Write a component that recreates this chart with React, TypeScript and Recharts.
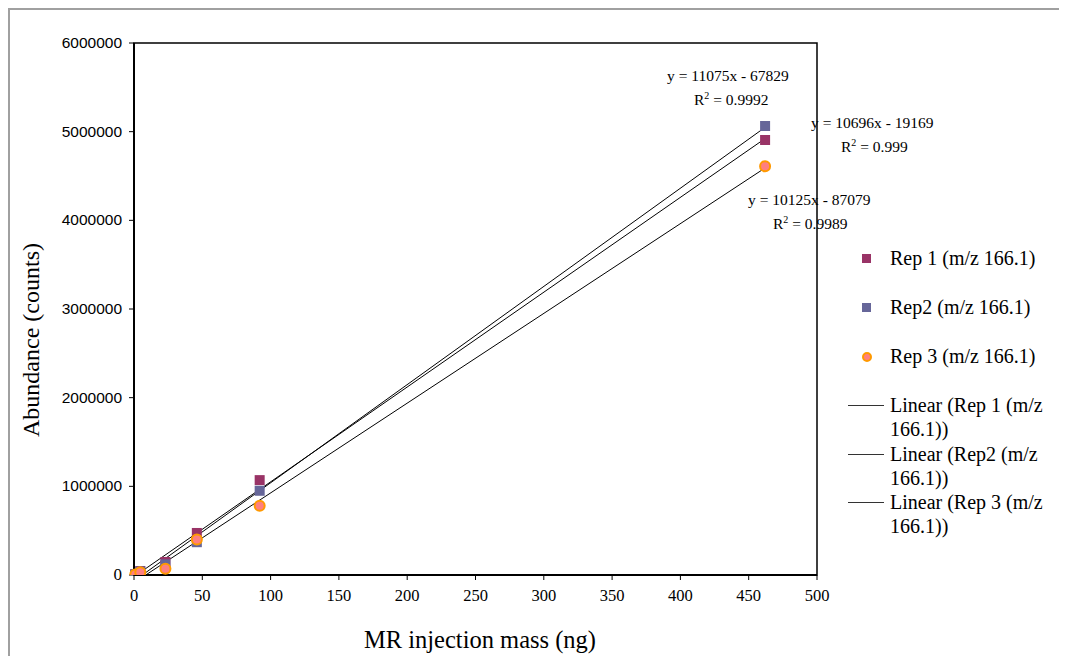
import { ScatterChart, Scatter, XAxis, YAxis, ReferenceArea } from 'recharts'

const massNg = [0.92, 4.6, 23, 46, 92, 462]
const rep1 = [9000, 45000, 147000, 474000, 1070000, 4906000]
const rep2 = [8000, 40000, 120000, 370000, 950000, 5064000]
const rep3 = [7000, 30000, 70000, 400000, 780000, 4610000]

// trendline coefficients as printed on the chart
const slopes = [11075, 10696, 10125]
const intercepts = [-67829, -19169, -87079]
const r2Labels = ['0.9992', '0.999', '0.9989']

const xTicks = [0, 50, 100, 150, 200, 250, 300, 350, 400, 450, 500]
const yTicks = [0, 1000000, 2000000, 3000000, 4000000, 5000000, 6000000]

const serif = '"Liberation Serif", "Times New Roman", serif'
const sans = '"Liberation Sans", Arial, sans-serif'

const toPoints = (ys: number[]) => massNg.map((x, i) => ({ x, y: ys[i] }))
const trend = (k: number) => {
  const lo = Math.min(...massNg)
  const hi = Math.max(...massNg)
  return [
    { x: lo, y: slopes[k] * lo + intercepts[k] },
    { x: hi, y: slopes[k] * hi + intercepts[k] },
  ]
}

const Square = (color: string) => (p: any) => (
  <rect x={p.cx - 5} y={p.cy - 5} width={10} height={10} fill={color} />
)
const Dot = (p: any) => (
  <circle cx={p.cx} cy={p.cy} r={5} fill="#ff7f7f" stroke="#ff9900" strokeWidth={2} />
)
const NoShape = () => <g />

const YTick = ({ x, y, payload }: any) => (
  <text
    x={x}
    y={y}
    dy={5}
    textAnchor="end"
    fontSize={payload.value === 0 ? 17 : 15.5}
    fontFamily={payload.value === 0 ? serif : sans}
    fill="#000"
  >
    {payload.value}
  </text>
)

const XTick = ({ x, y, payload }: any) => (
  <text x={x} y={y} dy={13} textAnchor="middle" fontSize={16.5} fontFamily={serif} fill="#000">
    {payload.value}
  </text>
)

const legendRows = [
  { kind: 'square', color: '#993366', text: ['Rep 1 (m/z 166.1)'] },
  { kind: 'square', color: '#666699', text: ['Rep2 (m/z 166.1)'] },
  { kind: 'circle', color: '#ff9900', text: ['Rep 3 (m/z 166.1)'] },
  { kind: 'line', color: '#000', text: ['Linear (Rep 1 (m/z', '166.1))'] },
  { kind: 'line', color: '#000', text: ['Linear (Rep2 (m/z', '166.1))'] },
  { kind: 'line', color: '#000', text: ['Linear (Rep 3 (m/z', '166.1))'] },
]

const LegendBox = () => (
  <div style={{ position: 'absolute', left: 835, top: 236, width: 222, fontFamily: serif, fontSize: 20, color: '#000' }}>
    {legendRows.map((r, i) => (
      <div
        key={i}
        style={{ display: 'flex', alignItems: 'flex-start', height: r.kind === 'line' ? 48.5 : 49, lineHeight: '24px' }}
      >
        <div style={{ width: 45, height: 24, position: 'relative', flexShrink: 0 }}>
          {r.kind === 'square' && (
            <div style={{ position: 'absolute', left: 17, top: 8, width: 9, height: 9, background: r.color }} />
          )}
          {r.kind === 'circle' && (
            <div
              style={{
                position: 'absolute', left: 17, top: 8, width: 6, height: 6, borderRadius: '50%',
                background: '#ff7f7f', border: '2px solid #ff9900',
              }}
            />
          )}
          {r.kind === 'line' && (
            <div style={{ position: 'absolute', left: 3, top: 12, width: 36, height: 1, background: '#333' }} />
          )}
        </div>
        <div style={{ whiteSpace: 'nowrap' }}>
          {r.text.map((t, j) => (
            <div key={j}>{t}</div>
          ))}
        </div>
      </div>
    ))}
  </div>
)

const annotations = [
  { left: 657, top: 57, r2Left: 684 },
  { left: 801, top: 104, r2Left: 831 },
  { left: 738, top: 181, r2Left: 763 },
]

export default function App() {
  return (
    <div
      style={{
        position: 'relative', width: 1057, height: 646,
        borderTop: '2px solid #a0a0a0', borderLeft: '2px solid #a0a0a0', background: '#fff',
      }}
    >
      <ScatterChart width={1057} height={646} margin={{ top: 33, right: 250, bottom: 51, left: 0 }}>
        <XAxis
          type="number"
          dataKey="x"
          domain={[0, 500]}
          ticks={xTicks}
          tickSize={5}
          tickMargin={8}
          tick={<XTick />}
          height={30}
          axisLine={{ stroke: '#000', strokeWidth: 2 }}
          tickLine={{ stroke: '#000' }}
        />
        <YAxis
          type="number"
          dataKey="y"
          domain={[0, 6000000]}
          ticks={yTicks}
          tickSize={5}
          tickMargin={7}
          tick={<YTick />}
          width={124}
          allowDataOverflow
          axisLine={{ stroke: '#000', strokeWidth: 2 }}
          tickLine={{ stroke: '#000' }}
        />
        <ReferenceArea x1={0} x2={500} y1={0} y2={6000000} fill="none" stroke="#000" strokeWidth={1.5} />
        {[0, 1, 2].map((k) => (
          <Scatter
            key={'t' + k}
            name={'Linear ' + k}
            data={trend(k)}
            line={{ stroke: '#000', strokeWidth: 1 }}
            shape={NoShape}
            isAnimationActive={false}
          />
        ))}
        <Scatter name="Rep 1 (m/z 166.1)" data={toPoints(rep1)} shape={Square('#993366')} isAnimationActive={false} />
        <Scatter name="Rep2 (m/z 166.1)" data={toPoints(rep2)} shape={Square('#666699')} isAnimationActive={false} />
        <Scatter name="Rep 3 (m/z 166.1)" data={toPoints(rep3)} shape={Dot} isAnimationActive={false} />
      </ScatterChart>

      <LegendBox />

      {annotations.map((a, k) => (
        <div key={k} style={{ position: 'absolute', left: 0, top: 0, fontFamily: serif, fontSize: 15.5, color: '#000' }}>
          <div style={{ position: 'absolute', left: a.left, top: a.top, whiteSpace: 'nowrap' }}>
            y = {slopes[k]}x - {Math.abs(intercepts[k])}
          </div>
          <div style={{ position: 'absolute', left: a.r2Left, top: a.top + 23, whiteSpace: 'nowrap' }}>
            R<sup style={{ fontSize: 10 }}>2</sup> = {r2Labels[k]}
          </div>
        </div>
      ))}

      <div
        style={{
          position: 'absolute', left: 21, top: 330, transform: 'translate(-50%, -50%) rotate(-90deg)',
          fontFamily: serif, fontSize: 24, whiteSpace: 'nowrap',
        }}
      >
        Abundance (counts)
      </div>
      <div
        style={{
          position: 'absolute', left: 470, top: 630, transform: 'translate(-50%, -50%)',
          fontFamily: serif, fontSize: 24.5, whiteSpace: 'nowrap',
        }}
      >
        MR injection mass (ng)
      </div>
    </div>
  )
}
